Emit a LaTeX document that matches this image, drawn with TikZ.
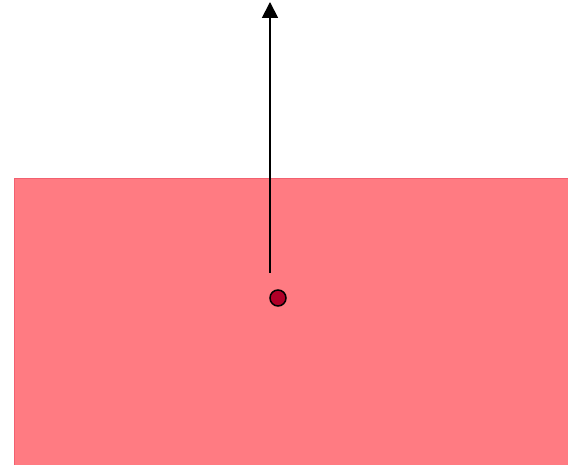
\documentclass[tikz,border=0pt]{standalone}
\usetikzlibrary{arrows.meta}
\definecolor{regionred}{HTML}{FF7B82}
\definecolor{regionedge}{HTML}{F26070}
\definecolor{dotred}{HTML}{B00028}
\tikzset{
  vecarrow/.style={line width=1.8pt, -{Triangle[width=16pt,length=16pt]}},
  pointdot/.style={circle, fill=dotred, draw=black, line width=1.5pt, minimum size=16pt, inner sep=0pt}
}
\begin{document}
\begin{tikzpicture}[x=1pt,y=1pt]
\useasboundingbox (0,0) rectangle (568,465);
\fill[regionred] (14,0) rectangle (568,287);
\draw[regionedge, line width=0.6pt] (14,0) -- (14,287) -- (568,287);
\coordinate (start) at (270,192);
\coordinate (tip) at (270,463);
\draw[vecarrow] (start) -- (tip);
\node[pointdot] (p) at (278,167) {};
\end{tikzpicture}
\end{document}
